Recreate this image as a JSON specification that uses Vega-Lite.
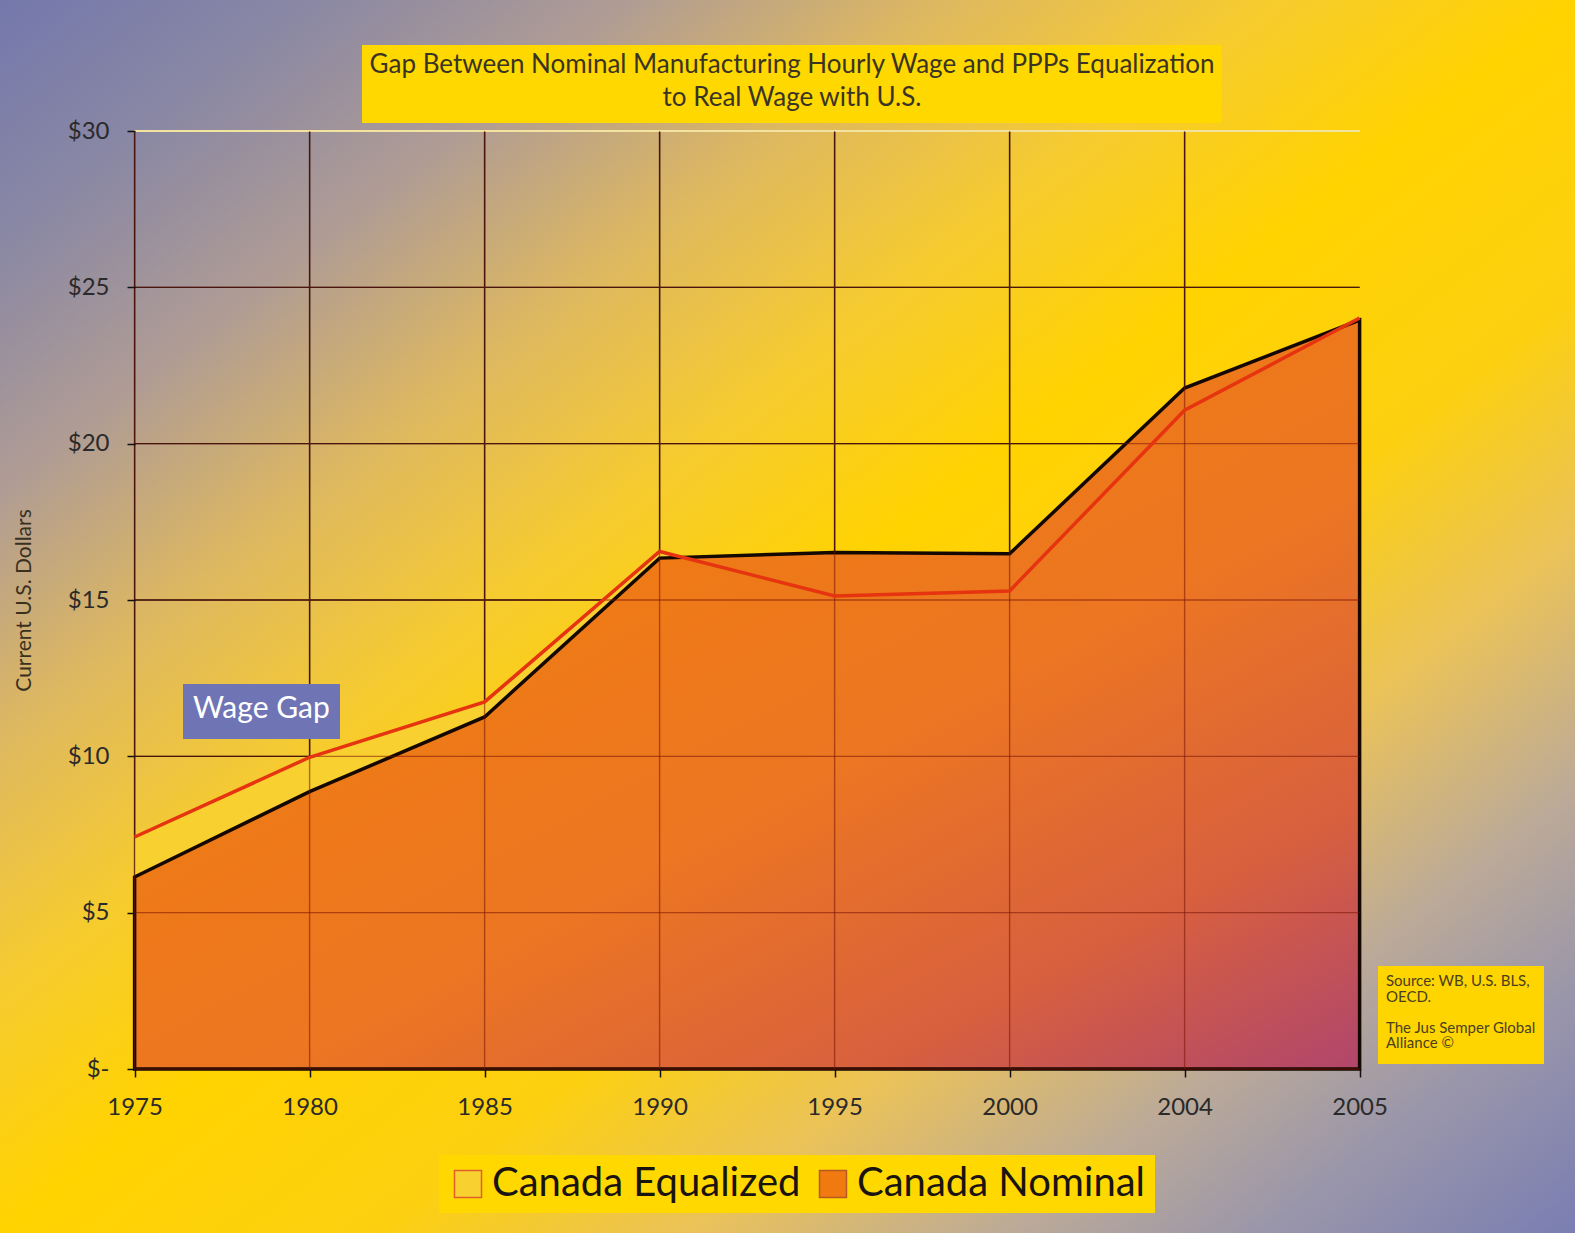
{
  "$schema": "https://vega.github.io/schema/vega-lite/v6.json",
  "width": 1575,
  "height": 1233,
  "padding": 0,
  "autosize": "none",
  "config": {"view": {"stroke": null}, "font": "Lato"},
  "resolve": {"scale": {"opacity": "independent"}, "legend": {"opacity": "independent"}},
  "datasets": {
    "wages": [
      {"year": "1975", "series": "Canada Equalized", "value": 7.42},
      {"year": "1980", "series": "Canada Equalized", "value": 9.97},
      {"year": "1985", "series": "Canada Equalized", "value": 11.74},
      {"year": "1990", "series": "Canada Equalized", "value": 16.55},
      {"year": "1995", "series": "Canada Equalized", "value": 15.13},
      {"year": "2000", "series": "Canada Equalized", "value": 15.29},
      {"year": "2004", "series": "Canada Equalized", "value": 21.07},
      {"year": "2005", "series": "Canada Equalized", "value": 24.02},
      {"year": "1975", "series": "Canada Nominal", "value": 6.14},
      {"year": "1980", "series": "Canada Nominal", "value": 8.87},
      {"year": "1985", "series": "Canada Nominal", "value": 11.26},
      {"year": "1990", "series": "Canada Nominal", "value": 16.34},
      {"year": "1995", "series": "Canada Nominal", "value": 16.52},
      {"year": "2000", "series": "Canada Nominal", "value": 16.48},
      {"year": "2004", "series": "Canada Nominal", "value": 21.78},
      {"year": "2005", "series": "Canada Nominal", "value": 23.95}
    ],
    "hgrid": [{"v": 0}, {"v": 5}, {"v": 10}, {"v": 15}, {"v": 20}, {"v": 25}],
    "vgrid": [{"year": "1975"}, {"year": "1980"}, {"year": "1985"}, {"year": "1990"}, {"year": "1995"}, {"year": "2000"}, {"year": "2004"}],
    "notes": [{"t": "title", "s": "source", "g": "gap"}]
  },
  "layer": [
    {
      "data": {"name": "notes"},
      "mark": {
        "type": "rect",
        "fill": {
          "gradient": "linear", "x1": 0, "y1": 0, "x2": 1, "y2": 1,
          "stops": [
            {"offset": 0, "color": "#7478AC"},
            {"offset": 0.1, "color": "#8A88A4"},
            {"offset": 0.2, "color": "#B09C94"},
            {"offset": 0.3, "color": "#DEB860"},
            {"offset": 0.4, "color": "#F6CB30"},
            {"offset": 0.5, "color": "#FFD300"},
            {"offset": 0.62, "color": "#FCD010"},
            {"offset": 0.72, "color": "#EAC25A"},
            {"offset": 0.82, "color": "#BCAA98"},
            {"offset": 0.9, "color": "#9A96AA"},
            {"offset": 1, "color": "#7A7EB2"}
          ]
        }
      },
      "encoding": {
        "opacity": {
          "field": "t", "type": "ordinal", "scale": {"range": [1]},
          "legend": {
            "orient": "none", "legendX": 362, "legendY": 45, "zindex": 1,
            "title": ["Gap Between Nominal Manufacturing Hourly Wage and PPPs Equalization", "to Real Wage with U.S."],
            "titleFont": "Lato", "titleFontSize": 26, "titleFontWeight": "normal", "titleColor": "#3a3424",
            "titleLineHeight": 33, "titleAlign": "center", "titleAnchor": "middle", "titleLimit": 2000, "titlePadding": 0,
            "fillColor": "#FFD800", "padding": 7,
            "symbolSize": 0, "symbolOpacity": 0, "symbolStrokeWidth": 0, "labelFontSize": 0, "labelOpacity": 0, "rowPadding": 0
          }
        }
      }
    },
    {
      "data": {"name": "notes"},
      "mark": {"type": "rect", "fill": "transparent", "strokeWidth": 0},
      "encoding": {
        "opacity": {
          "field": "s", "type": "ordinal", "scale": {"range": [0]},
          "legend": {
            "orient": "none", "legendX": 1378, "legendY": 966, "zindex": 1,
            "title": ["Source: WB, U.S. BLS,", "OECD.", "\u2800", "The Jus Semper Global", "Alliance ©"],
            "titleFont": "Lato", "titleFontSize": 15, "titleFontWeight": "normal", "titleColor": "#4a4020",
            "titleLineHeight": 15.5, "titleAlign": "left", "titleAnchor": "start", "titleLimit": 500, "titlePadding": 0,
            "fillColor": "#FFD500", "padding": 8,
            "symbolSize": 0, "symbolOpacity": 0, "symbolStrokeWidth": 0, "labelFontSize": 0, "labelOpacity": 0, "rowPadding": 0
          }
        }
      }
    },
    {
      "data": {"name": "notes"},
      "mark": {"type": "rect", "fill": "transparent", "strokeWidth": 0},
      "encoding": {
        "opacity": {
          "field": "g", "type": "ordinal", "scale": {"range": [0]},
          "legend": {
            "orient": "none", "legendX": 183, "legendY": 684, "zindex": 1,
            "title": "Wage Gap",
            "titleFont": "Lato", "titleFontSize": 30, "titleFontWeight": "normal", "titleColor": "#FFFFFF",
            "titleLimit": 500, "titlePadding": 0,
            "fillColor": "#6F74B5", "padding": 10,
            "symbolSize": 0, "symbolOpacity": 0, "symbolStrokeWidth": 0, "labelFontSize": 0, "labelOpacity": 0, "rowPadding": 0
          }
        }
      }
    },
    {
      "data": {"name": "hgrid"},
      "mark": {"type": "rule", "color": "#151515", "strokeWidth": 1.4},
      "encoding": {
        "y": {"field": "v", "type": "quantitative"},
        "x": {"datum": "1975", "type": "ordinal"},
        "x2": {"datum": "2005"}
      }
    },
    {
      "data": {"name": "vgrid"},
      "mark": {"type": "rule", "color": "#151515", "strokeWidth": 1.4},
      "encoding": {
        "x": {"field": "year", "type": "ordinal"},
        "y": {"datum": 0, "type": "quantitative"},
        "y2": {"datum": 30}
      }
    },
    {
      "data": {"name": "hgrid"},
      "mark": {"type": "rule", "color": "#F3E3A0", "strokeWidth": 2},
      "encoding": {
        "y": {"datum": 30, "type": "quantitative"},
        "x": {"datum": "1975", "type": "ordinal"},
        "x2": {"datum": "2005"}
      }
    },
    {
      "data": {"name": "wages"},
      "mark": {"type": "area", "strokeWidth": 0},
      "encoding": {
        "x": {
          "field": "year", "type": "ordinal",
          "scale": {"type": "point", "domain": ["1975", "1980", "1985", "1990", "1995", "2000", "2004", "2005"], "padding": 1.0037, "align": 0.3846},
          "axis": {
            "orient": "bottom", "offset": -164, "title": null, "domain": false, "grid": false,
            "ticks": true, "tickSize": 8, "tickColor": "#111111", "tickWidth": 1.5,
            "labelFont": "Lato", "labelFontSize": 24, "labelColor": "#2a2a2a", "labelPadding": 30, "labelAngle": 0,
            "labelAlign": "center", "labelBaseline": "middle",
            "zindex": 1
          }
        },
        "y": {
          "field": "value", "type": "quantitative", "stack": null,
          "scale": {"domain": [-5.245, 34.19], "nice": false, "zero": false},
          "axis": {
            "orient": "left", "offset": -135, "values": [0, 5, 10, 15, 20, 25, 30],
            "labelExpr": "datum.value == 0 ? '$-' : '$' + datum.value",
            "domain": false, "grid": false, "ticks": true, "tickSize": 8, "tickColor": "#111111", "tickWidth": 1.5,
            "labelFont": "Lato", "labelFontSize": 24, "labelColor": "#2a2a2a", "labelPadding": 18,
            "title": "Current U.S. Dollars", "titleFont": "Lato", "titleFontSize": 21, "titleFontWeight": "normal",
            "titleColor": "#3a3020", "titleX": -111, "titleY": 600, "titleAngle": -90, "titleAlign": "center", "titleBaseline": "middle",
            "zindex": 1
          }
        },
        "y2": {"datum": 0},
        "fill": {
          "field": "series", "type": "nominal",
          "scale": {"domain": ["Canada Equalized", "Canada Nominal"], "range": ["#F8D030", "#F07A10"]},
          "legend": {
            "orient": "none", "legendX": 439, "legendY": 1155, "zindex": 1, "direction": "horizontal",
            "title": null, "fillColor": "#FFD800", "padding": 9,
            "symbolType": "square", "symbolSize": 729, "symbolStrokeWidth": 1.5, "symbolOpacity": 1,
            "labelFont": "Lato", "labelFontSize": 40, "labelColor": "#1a1410", "labelLimit": 0, "labelOffset": 4,
            "columnPadding": 12
          }
        },
        "stroke": {
          "field": "series", "type": "nominal",
          "scale": {"domain": ["Canada Equalized", "Canada Nominal"], "range": ["#E0602A", "#B85A20"]}
        }
      }
    },
    {
      "data": {"name": "wages"},
      "transform": [{"filter": "datum.series == 'Canada Nominal'"}],
      "mark": {
        "type": "area", "stroke": "#150800", "strokeWidth": 3.5,
        "fill": {
          "gradient": "linear", "x1": 0.3, "y1": 0.2, "x2": 1, "y2": 1,
          "stops": [
            {"offset": 0, "color": "#F07C0E"},
            {"offset": 0.45, "color": "#EC7622"},
            {"offset": 0.75, "color": "#D8603E"},
            {"offset": 1, "color": "#B0466C"}
          ]
        }
      },
      "encoding": {
        "x": {"field": "year", "type": "ordinal"},
        "y": {"field": "value", "type": "quantitative"},
        "y2": {"datum": 0}
      }
    },
    {
      "data": {"name": "hgrid"},
      "mark": {"type": "rule", "color": "#7a1405", "strokeWidth": 1.4, "opacity": 0.55},
      "encoding": {
        "y": {"field": "v", "type": "quantitative"},
        "x": {"datum": "1975", "type": "ordinal"},
        "x2": {"datum": "2005"}
      }
    },
    {
      "data": {"name": "vgrid"},
      "mark": {"type": "rule", "color": "#7a1405", "strokeWidth": 1.4, "opacity": 0.55},
      "encoding": {
        "x": {"field": "year", "type": "ordinal"},
        "y": {"datum": 0, "type": "quantitative"},
        "y2": {"datum": 30}
      }
    },
    {
      "data": {"name": "wages"},
      "transform": [{"filter": "datum.series == 'Canada Equalized'"}],
      "mark": {"type": "line", "color": "#E5340F", "strokeWidth": 3.5},
      "encoding": {
        "x": {"field": "year", "type": "ordinal"},
        "y": {"field": "value", "type": "quantitative"}
      }
    }
  ]
}
